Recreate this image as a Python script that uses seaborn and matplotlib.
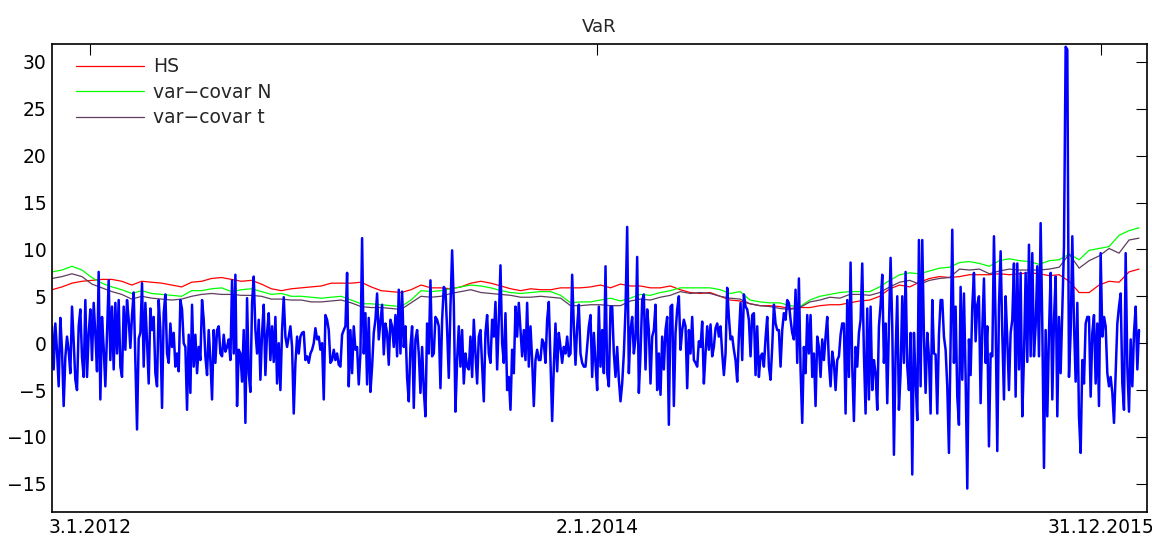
import matplotlib
matplotlib.use("Agg")
import matplotlib.pyplot as plt
import numpy as np
import seaborn as sns

# Tick labels for the trading-day axis
date_labels = ["3.1.2012", "2.1.2014", "31.12.2015"]

# Daily P&L / return series (every ~2nd trading day)
returns = [
    1.8, -2.8, 2.1, -0.8, -4.6, 2.7, -0.7, -6.7, -1.5, 0.7,
    -0.8, -3.2, 3.9, 0.2, -3.9, -5.0, 1.8, 3.6, -1.5, -3.6,
    4.6, -3.6, 1.0, 3.6, -1.8, 4.3, 1.0, -3.0, 7.6, -6.0,
    2.8, -0.5, -4.6, 1.0, 6.7, -1.8, 3.9, -2.8, 4.3, -1.1,
    4.6, -2.5, -3.6, 3.9, -0.7, 4.6, 2.5, -0.5, 3.0, 5.4,
    -2.0, -9.2, 0.5,
    1.1, 6.4, -2.5, 4.3, 0.2, -4.3, 3.7, 1.4, 2.8, -3.2,
    -4.6, 4.6, 1.4, -6.9, 3.2, 5.2, -1.1, -2.1, 2.1, -0.4,
    1.1, -2.5, -1.1, -3.0, 4.6, 3.6, 0.0, -0.4, -7.1, 0.9,
    -5.3, 4.1, -2.5, 0.9, -3.2, -0.4, -1.8, 4.6, 2.5, -1.4,
    -3.4, 1.4, -1.8, -6.0, 1.4, -2.1, 1.4, 1.8, -1.1, -1.4,
    0.9, -0.9, -0.4, 0.4, -1.8, 6.7, -1.1, 7.3, -6.7, -0.7,
    -1.1, -4.1, 1.4, -8.5, 4.8, -3.2, -5.2, 4.3, 7.1, 1.4,
    -1.1, 2.5, -3.9, 1.1, 4.1, -3.4, 1.1, 3.2, -1.8, 1.8,
    -2.0, 2.8, -4.3, 0.0, -5.0, 1.4, 4.9, 0.7, -0.4, 0.7,
    1.8, -0.4, -7.5, -2.1, 0.7, -1.1, 0.7, 1.1, 1.2, -1.8,
    -1.4, -2.1, -1.1, -0.7, 0.0, 1.6, 0.4, 0.7, -0.7, 0.0,
    -6.0, 3.0, 2.5, 1.4, -2.1, -1.8, -0.7, -1.8, -1.1, -2.3,
    -2.5, 0.9, 1.4, 1.8, 7.5, -4.6, 1.4, -3.2, 1.8, -0.7,
    -0.4, -4.4, -1.1, 11.2, -1.1, 3.2, -4.4, 2.7, -5.2, -2.5,
    1.1, 2.5, 5.3, 0.4, 2.3, 4.1, -1.2, 2.1, 1.1, -2.3,
    2.5, 1.8, -0.4, 3.0, -1.4, 5.7, -1.1, 5.5, -0.4, 1.8,
    -3.7, -6.2, -0.4, 1.8, -6.9, 0.4, 1.4, -1.1, -5.3, -0.4,
    -5.0, -7.8, 2.1, -1.1, 6.7, -1.4, -1.1, 2.8, 2.5, 1.8,
    -4.8, 2.5, 6.0, 5.7, 1.4, -3.7, 3.9, 9.9, 4.3, -7.3,
    -1.8, 1.8, -2.5, 1.4, -4.3, -1.1, -2.5, -2.8, 0.7, -3.6,
    2.5, -1.1, -4.3, 0.7, 1.4, -2.5, -6.2, 1.1, 3.0, -1.1,
    -2.1, 2.5, 0.7, 4.4, -2.8, 2.5, 8.3, 0.0, -2.1, 3.2,
    -5.0, -3.6, -7.1, -0.7, -3.2, 3.9, 0.7, 4.3, 1.4, -1.4,
    1.4, -1.8, 4.3, -2.5, 1.8, -1.8, -6.7, -1.8, -0.7, -1.8,
    -1.8, 0.4, 0.0, -2.1, 2.5, 4.4, -1.8, -8.3, -2.5, 2.1,
    -3.0, 1.1, -0.4, -2.1, -0.4, -1.1, 0.7, -1.4, -1.1, 7.3,
    1.8, -2.3, 1.8, 4.1, -1.1, -2.1, -2.5, -2.5, -0.4, 1.8,
    3.0, -3.6, 1.1, -2.1, -5.0, 3.9, -2.5, 1.4, -3.2, 8.2,
    -3.2, -4.6, 3.9, 3.9, -1.1, -3.6, -0.4, -3.9, -6.2, -4.3,
    -1.1, 3.6, 12.4, -3.2, 1.4, 2.8, -1.1, 0.5, 9.2, -5.3,
    -1.1, 4.6, 5.2, -2.8, 3.6, 1.4, -4.3, 0.7, 1.4, 4.1,
    -5.0, -1.1, -5.5, 0.7, -2.8, 1.4, 2.8, -8.7, 3.9, 4.1,
    -6.7, 1.1, 3.6, 5.0, -0.7, 1.4, 2.5, 1.8, -4.8, 1.4,
    -1.1, 2.8, -1.8, -2.1, -2.5, 0.2, -0.4, 2.3, -4.3, -1.1,
    1.8, -0.7, 2.0, -1.4, -0.4, 1.6, 2.1, 0.7, 1.8, -1.1,
    -3.4, -1.1, 5.9, 2.8, 0.4, 0.7, -0.7, -1.8, -4.1, 0.7,
    4.3, -1.8, 5.2, 3.9, 3.6, 2.5, -1.4, 3.0, 3.2, -3.4,
    1.8, -3.6, -1.4, -1.1, -2.5, 0.5, 2.8, -2.5, -3.9, -0.4,
    4.1, 2.1, 1.4, 1.4, -2.5, 1.4, 3.2, 2.5, 4.6, 4.3,
    2.5, 1.1, 0.4, 5.7, -2.1, 6.9, -2.8, -8.5, -0.4, -3.2,
    3.0, -1.1, 3.0, -3.6, -1.1, -6.7, 0.7, -0.4, -3.6, 0.4,
    -1.8, 0.7, 2.8, -2.1, -4.6, -0.9, -2.1, -5.0, -1.8, -1.4,
    0.9, 2.1, 2.1, -7.5, 4.6, -3.6, 8.6, -2.5, -8.3, -0.4,
    -2.5, 1.1, 2.5, 8.5, -1.1, -7.5, 3.7, -6.0, 3.9, -5.0,
    -1.8, -3.2, -7.1, 1.8, 4.1, 7.3, -2.1, 2.1, -6.4, 1.8,
    9.1, 1.8, -11.9, -1.1, 5.0, -7.1, -3.2, 5.0, -2.1, 7.6,
    -2.5, -5.0, 1.1, -14.0, 1.1, -3.9, -8.2, 11.0, -4.6, 11.0,
    0.7, -5.3, 1.1, -1.4, -7.5, 4.6, -1.1, -1.2, -7.5, 0.9,
    4.6, 4.6, 0.7, -0.7, -4.6, -11.7, 0.4, 12.1, -2.1, 3.9,
    -5.7, -8.7, 6.0, -3.9, 5.3, -3.6, -15.5, 0.4, -3.4, 3.9,
    7.5, 0.2, 4.1, 5.0, -6.4, 1.4, 6.9, -2.1, 1.8, -11.0,
    -1.1, -1.4, 11.4, 2.1, -11.5, 3.9, 9.8, 1.1, -6.0, 5.0,
    0.4, -5.0, 1.1, 2.5, 8.5, -5.7, 8.5, -2.8, 7.5, -7.8,
    -1.4, 7.5, -2.0, 10.5, -1.4, 9.6, -1.4, 1.8, 8.2, -1.4,
    12.8, 1.8, -13.3, 1.4, -7.8, 1.1, 7.5, -6.0, 2.5, 7.1,
    -7.8, 2.8, -3.2, 3.5, 10.3, 31.6, 31.3, -3.6, 1.1, 11.4,
    2.1, -4.1, 4.3, -7.8, -11.7, -1.8, -4.3, 2.1, 2.8, 2.8,
    -5.7, 1.1, 3.0, -4.3, 2.1, -6.7, 9.6, 0.7, 2.8, 1.8,
    -3.2, -4.6, -3.6, -5.3, -8.5, -3.2, 2.1, 3.9, 5.3, -4.3,
    -7.1, 9.6, -2.5, -7.3, 0.4, -4.6, 1.1, 3.9, -2.8, 1.4,
]

# Value-at-Risk estimates (every ~10 trading days)
var_hs = [
    5.7, 6.0, 6.4, 6.6, 6.7, 6.8, 6.8, 6.6, 6.2,
    6.6, 6.5, 6.4, 6.2, 6.0, 6.5, 6.6, 6.9, 7.0, 6.8,
    6.6, 6.7, 6.3, 5.8, 5.6, 5.8, 5.9, 6.0, 6.1, 6.4,
    6.4, 6.4, 6.5, 6.0, 5.6, 5.5, 5.4, 5.7, 6.2, 5.9,
    5.9, 5.8, 6.0, 6.4, 6.6, 6.4, 6.1, 5.8, 5.6, 5.8,
    5.7, 5.7, 5.9, 5.9, 5.9, 6.0, 6.2, 5.9, 6.3, 6.1,
    6.1, 5.9, 5.9, 6.1, 5.7, 5.4, 5.3, 5.4, 5.0, 4.6,
    4.5, 4.2, 4.0, 4.0, 3.9, 3.7, 3.8, 3.8, 4.0, 4.1,
    4.1, 4.3, 4.5, 4.6, 5.0, 5.8, 6.2, 6.0, 6.5, 6.9,
    7.1, 7.0, 7.1, 7.3, 7.3, 7.3, 7.4, 7.3, 7.4, 7.5,
    7.4, 7.2, 7.3, 6.6, 5.4, 5.4, 6.2, 6.6, 6.5, 7.6, 7.9,
]
var_norm = [
    7.6, 7.8, 8.2, 7.8, 7.0, 6.4, 6.0, 5.7, 5.3,
    5.6, 5.3, 5.2, 5.1, 5.0, 5.6, 5.6, 5.8, 5.9, 5.5,
    5.7, 5.8, 5.5, 5.2, 5.3, 5.0, 5.0, 4.9, 4.8, 4.9,
    5.0, 4.6, 4.2, 4.2, 4.1, 4.0, 3.9, 4.6, 5.6, 5.5,
    5.6, 5.8, 6.0, 6.2, 6.1, 5.9, 5.6, 5.4, 5.3, 5.4,
    5.5, 5.5, 5.1, 4.3, 4.4, 4.4, 4.6, 4.8, 4.5, 4.8,
    5.2, 5.1, 5.4, 5.6, 5.9, 5.9, 5.9, 5.9, 5.7, 5.3,
    5.5, 4.6, 4.4, 4.3, 4.3, 4.0, 3.9, 4.6, 5.0, 5.2,
    5.4, 5.5, 5.5, 5.5, 6.0, 6.7, 7.3, 7.5, 7.4, 7.7,
    8.0, 8.1, 8.6, 8.7, 8.5, 8.2, 8.8, 9.0, 8.8, 8.7,
    8.4, 8.8, 8.9, 9.5, 8.9, 9.9, 10.1, 10.3, 11.5, 12.0, 12.3,
]
var_t = [
    6.9, 7.1, 7.4, 7.1, 6.3, 5.9, 5.5, 5.2, 4.7,
    5.0, 4.8, 4.7, 4.6, 4.7, 5.0, 5.2, 5.3, 5.2, 5.2,
    5.1, 5.1, 5.0, 4.7, 4.7, 4.6, 4.6, 4.4, 4.4, 4.5,
    4.6, 4.3, 3.9, 3.8, 3.8, 3.7, 3.6, 4.3, 5.0, 4.9,
    5.0, 5.3, 5.5, 5.7, 5.4, 5.3, 5.2, 5.1, 4.9, 4.9,
    5.0, 4.9, 4.8, 4.0, 4.0, 4.1, 4.1, 4.0, 4.0, 4.5,
    4.7, 4.6, 4.9, 5.1, 5.5, 5.3, 5.4, 5.3, 5.0, 4.8,
    4.7, 4.2, 4.0, 3.9, 3.7, 3.6, 3.8, 4.4, 4.6, 4.9,
    4.8, 5.2, 5.2, 5.1, 5.4, 6.0, 6.5, 6.7, 6.3, 6.7,
    6.9, 7.0, 7.9, 7.8, 7.9, 7.4, 7.7, 7.9, 7.8, 7.8,
    7.8, 7.9, 8.1, 9.5, 8.0, 8.8, 9.3, 10.1, 9.6, 11.0, 11.2,
]

sns.set_style("white")
plt.rcParams["font.family"] = ["DejaVu Sans"]

fig = plt.figure(figsize=(11.52, 5.36), dpi=100)
ax = fig.add_axes([52 / 1152, 24 / 536, 1095 / 1152, 468 / 536])

n = len(returns)
t_ret = np.arange(n)
t_var = np.linspace(0, n - 1, len(var_hs))

sns.lineplot(x=t_var, y=var_hs, ax=ax, color="#ff0000", lw=0.9, label="HS")
sns.lineplot(x=t_var, y=var_norm, ax=ax, color="#00ff00", lw=0.9, label="var\u2212covar N")
sns.lineplot(x=t_var, y=var_t, ax=ax, color="#5e3c5e", lw=0.9, label="var\u2212covar t")
sns.lineplot(x=t_ret, y=returns, ax=ax, color="#0000ff", lw=1.8, legend=False)

ax.set_xlim(0, (n - 1) * 1095 / 1087)
ax.set_ylim(-18.0, 31.9)
ax.set_yticks(np.arange(-15, 31, 5))
tick_pos = [round(f * (n - 1)) for f in (0.035, 0.502, 0.964)]
ax.set_xticks(tick_pos)
ax.set_xticklabels(date_labels)
ax.set_xlabel("")
ax.set_ylabel("")

ax.tick_params(direction="in", length=8, width=0.8, top=True, right=True,
               labelsize=13.5, pad=4, colors="black")
for sp in ax.spines.values():
    sp.set_visible(True)
    sp.set_color("black")
    sp.set_linewidth(1.2)

ax.set_title("VaR", fontsize=13, pad=9)
ax.legend(loc="upper left", frameon=False, fontsize=13.5, handlelength=3.6,
          labelspacing=0.35, handletextpad=0.5, borderaxespad=0.3,
          bbox_to_anchor=(0.01, 1.0))

fig.savefig("out.png", dpi=100)
